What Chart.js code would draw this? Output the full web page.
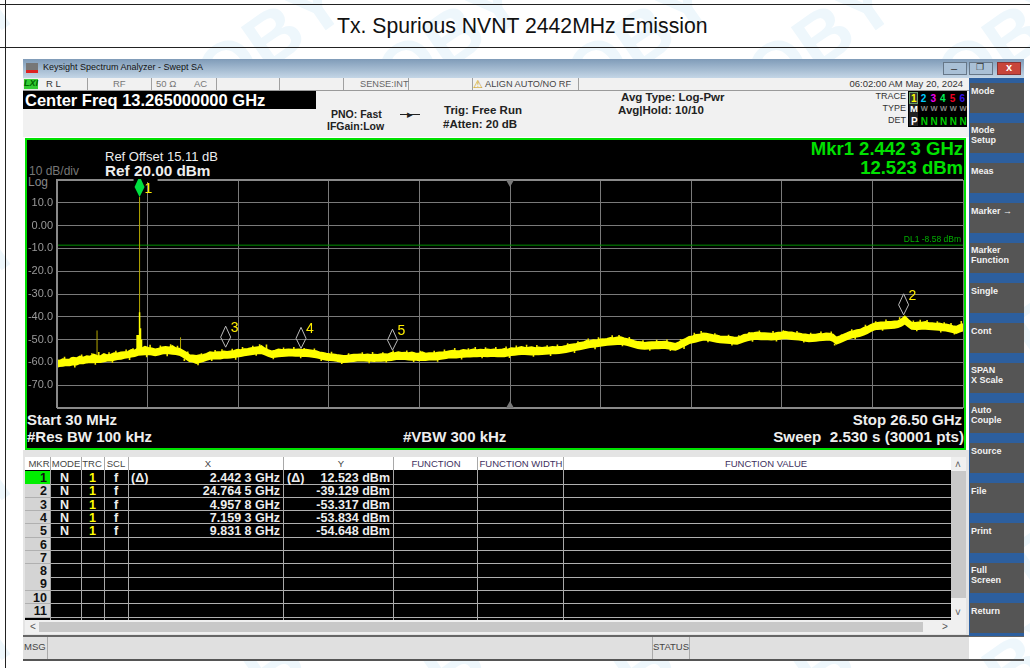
<!DOCTYPE html>
<html>
<head>
<meta charset="utf-8">
<title>Tx. Spurious NVNT 2442MHz Emission</title>
<script src="https://cdn.jsdelivr.net/npm/chart.js@4"></script>
<style>
    html, body { margin: 0; padding: 0; background: #fff; }
    body { width: 1030px; height: 668px; overflow: hidden; position: relative; font-family: "Liberation Sans", Arial, sans-serif; }
    #page div, #page span { position: absolute; white-space: pre; }
    #graph { position: absolute; left: 27px; top: 141px; width: 938px; height: 308px; }
</style>
</head>
<body>
<div id="page"></div>
<canvas id="graph" width="938" height="308"></canvas>
<script>
// Sweep frequencies in GHz
const traceGHz = [
    0.03,0.1,0.2,0.3,0.4,0.5,0.6,0.7,0.8,0.9,
    1.0,1.1,1.2,1.3,1.4,1.5,1.6,1.7,1.8,1.9,
    2.0,2.1,2.2,2.3,2.4,2.5,2.6,2.7,2.8,2.9,
    3.0,3.1,3.2,3.3,3.4,3.5,3.6,3.7,3.8,3.9,
    4.0,4.1,4.2,4.3,4.4,4.5,4.6,4.7,4.8,4.9,
    5.0,5.1,5.2,5.3,5.4,5.5,5.6,5.7,5.8,5.9,
    6.0,6.1,6.2,6.3,6.4,6.5,6.6,6.7,6.8,6.9,
    7.0,7.1,7.2,7.3,7.4,7.5,7.6,7.7,7.8,7.9,
    8.0,8.1,8.2,8.3,8.4,8.5,8.6,8.7,8.8,8.9,
    9.0,9.1,9.2,9.3,9.4,9.5,9.6,9.7,9.8,9.9,
    10.0,10.1,10.2,10.3,10.4,10.5,10.6,10.7,10.8,10.9,
    11.0,11.1,11.2,11.3,11.4,11.5,11.6,11.7,11.8,11.9,
    12.0,12.1,12.2,12.3,12.4,12.5,12.6,12.7,12.8,12.9,
    13.0,13.1,13.2,13.3,13.4,13.5,13.6,13.7,13.8,13.9,
    14.0,14.1,14.2,14.3,14.4,14.5,14.6,14.7,14.8,14.9,
    15.0,15.1,15.2,15.3,15.4,15.5,15.6,15.7,15.8,15.9,
    16.0,16.1,16.2,16.3,16.4,16.5,16.6,16.7,16.8,16.9,
    17.0,17.1,17.2,17.3,17.4,17.5,17.6,17.7,17.8,17.9,
    18.0,18.1,18.2,18.3,18.4,18.5,18.6,18.7,18.8,18.9,
    19.0,19.1,19.2,19.3,19.4,19.5,19.6,19.7,19.8,19.9,
    20.0,20.1,20.2,20.3,20.4,20.5,20.6,20.7,20.8,20.9,
    21.0,21.1,21.2,21.3,21.4,21.5,21.6,21.7,21.8,21.9,
    22.0,22.1,22.2,22.3,22.4,22.5,22.6,22.7,22.8,22.9,
    23.0,23.1,23.2,23.3,23.4,23.5,23.6,23.7,23.8,23.9,
    24.0,24.1,24.2,24.3,24.4,24.5,24.6,24.7,24.8,24.9,
    25.0,25.1,25.2,25.3,25.4,25.5,25.6,25.7,25.8,25.9,
    26.0,26.1,26.2,26.3,26.4,26.5
];

// Upper edge of the noise band in dBm
const traceTop = [
    -59.2,-59.3,-58.6,-58.8,-58.7,-58.0,-58.2,-57.4,-57.9,-57.3,
    -57.5,-56.6,-57.2,-57.3,-56.4,-56.9,-56.6,-56.0,-56.1,-55.7,
    -55.5,-55.4,-54.6,-54.8,-53.9,-54.0,-53.2,-53.7,-53.9,-54.3,
    -54.0,-53.4,-53.2,-53.5,-52.9,-53.8,-54.0,-54.8,-55.7,-56.9,
    -57.0,-57.2,-56.9,-56.7,-56.3,-55.6,-55.8,-55.5,-55.6,-55.2,
    -55.4,-55.2,-55.0,-54.5,-54.7,-54.2,-54.1,-53.8,-53.6,-53.4,
    -52.9,-53.9,-54.6,-55.2,-54.9,-54.4,-54.6,-54.5,-54.3,-54.4,
    -54.5,-54.3,-54.6,-54.5,-54.7,-54.9,-55.1,-55.6,-55.9,-56.2,
    -56.4,-56.5,-56.8,-57.0,-57.2,-57.1,-56.9,-56.6,-56.6,-56.5,
    -56.7,-56.5,-56.8,-56.6,-56.7,-56.4,-56.4,-56.5,-55.9,-56.0,
    -55.6,-55.9,-55.8,-56.0,-55.7,-56.1,-56.2,-55.6,-56.2,-56.0,
    -56.0,-55.9,-55.7,-55.7,-55.4,-55.1,-54.9,-55.1,-55.0,-54.6,
    -54.8,-54.7,-54.4,-54.7,-54.5,-54.6,-54.4,-54.6,-54.3,-54.6,
    -54.5,-54.1,-54.4,-53.8,-53.9,-53.7,-53.3,-53.7,-53.6,-53.4,
    -53.8,-53.5,-53.7,-53.5,-53.6,-53.3,-53.4,-53.2,-53.1,-52.8,
    -52.4,-52.1,-51.9,-51.5,-51.3,-50.6,-50.7,-50.3,-50.4,-50.0,
    -49.9,-49.7,-49.3,-49.4,-49.1,-49.0,-49.5,-49.8,-50.2,-50.7,
    -51.1,-51.2,-51.5,-51.3,-51.2,-51.2,-51.0,-51.1,-50.9,-51.3,
    -51.6,-51.9,-51.2,-50.4,-49.7,-48.8,-48.6,-48.0,-47.9,-47.3,
    -47.4,-47.7,-48.1,-48.2,-48.6,-48.7,-48.8,-48.9,-49.1,-49.2,
    -48.7,-48.0,-47.7,-47.2,-47.1,-46.9,-47.2,-47.2,-47.3,-47.4,
    -47.3,-47.0,-46.9,-46.6,-46.9,-46.9,-47.3,-47.3,-47.6,-47.8,
    -48.1,-47.9,-47.9,-47.5,-47.6,-47.3,-47.4,-47.8,-49.2,-48.6,
    -47.9,-47.3,-46.6,-46.3,-45.9,-45.7,-44.9,-44.5,-43.7,-43.0,
    -42.7,-42.5,-42.5,-42.3,-42.3,-42.1,-41.9,-41.2,-39.9,-41.4,
    -42.6,-42.7,-42.5,-42.6,-42.3,-42.8,-42.8,-43.0,-42.9,-43.3,
    -43.4,-43.7,-44.1,-44.4,-43.7,-43.2
];

// Lower edge of the noise band in dBm
const traceBottom = [
    -61.9,-61.6,-61.5,-61.2,-61.3,-60.8,-60.9,-60.3,-60.4,-60.0,
    -59.8,-59.9,-59.7,-59.8,-59.5,-59.2,-59.2,-58.8,-58.5,-58.4,
    -58.0,-57.8,-57.4,-57.2,-56.7,-56.5,-56.4,-56.3,-56.5,-56.9,
    -56.5,-56.1,-55.9,-56.0,-56.2,-56.3,-56.6,-57.4,-58.4,-59.4,
    -59.6,-60.2,-59.8,-59.4,-58.9,-58.4,-58.3,-58.2,-58.3,-58.0,
    -58.0,-57.8,-57.6,-57.4,-57.2,-56.9,-56.7,-56.4,-56.2,-56.0,
    -55.9,-56.5,-57.1,-57.6,-57.5,-57.3,-57.2,-57.1,-57.0,-57.0,
    -57.1,-57.0,-57.2,-57.2,-57.3,-57.5,-57.8,-58.1,-58.5,-58.8,
    -59.0,-59.1,-59.3,-59.6,-59.8,-59.7,-59.5,-59.4,-59.2,-59.1,
    -59.2,-59.3,-59.3,-59.4,-59.2,-59.3,-59.2,-59.1,-58.9,-58.6,
    -58.4,-58.5,-58.5,-58.7,-58.8,-58.7,-59.0,-58.8,-58.9,-58.7,
    -58.6,-58.7,-58.5,-58.3,-58.1,-57.8,-57.7,-57.8,-57.6,-57.5,
    -57.4,-57.4,-57.3,-57.3,-57.2,-57.2,-57.3,-57.2,-57.2,-57.3,
    -57.2,-57.3,-57.0,-56.8,-56.6,-56.4,-56.3,-56.3,-56.4,-56.5,
    -56.4,-56.4,-56.3,-56.2,-56.1,-56.0,-56.0,-55.9,-55.7,-55.4,
    -55.1,-54.8,-54.5,-54.2,-53.9,-53.6,-53.3,-53.1,-52.9,-52.7,
    -52.5,-52.3,-52.2,-52.0,-51.9,-51.8,-52.1,-52.4,-52.8,-53.3,
    -53.7,-53.9,-54.0,-53.9,-53.9,-53.8,-53.8,-53.7,-53.7,-53.9,
    -54.2,-54.4,-53.8,-53.1,-52.3,-51.5,-51.2,-50.8,-50.4,-50.1,
    -50.1,-50.3,-50.6,-50.9,-51.2,-51.3,-51.4,-51.5,-51.7,-51.8,
    -51.3,-50.8,-50.3,-50.0,-49.7,-49.7,-49.8,-49.9,-49.9,-50.0,
    -49.9,-49.7,-49.5,-49.3,-49.5,-49.7,-49.9,-50.0,-50.2,-50.5,
    -50.7,-50.6,-50.5,-50.3,-50.2,-50.1,-50.0,-50.5,-51.8,-51.2,
    -50.5,-49.9,-49.3,-48.9,-48.6,-48.3,-47.8,-47.1,-46.3,-45.6,
    -45.3,-45.2,-45.1,-45.0,-44.9,-44.8,-44.5,-43.9,-42.9,-44.1,
    -45.2,-45.3,-45.3,-45.2,-45.2,-45.4,-45.5,-45.6,-45.7,-45.9,
    -46.0,-46.3,-46.7,-47.1,-46.5,-46.0
];

// Short noise whiskers poking out of the band
const whiskerUpGHz = [
    0.25,0.45,0.75,1.05,1.25,1.55,1.75,2.05,2.25,2.75,3.05,3.35,3.55,3.85,4.25,4.65,4.85,5.15,5.45,5.75,
    5.95,6.15,6.65,6.95,7.25,7.55,8.05,8.55,8.95,9.25,9.55,9.85,10.25,10.65,11.05,11.35,11.65,12.05,12.25,12.55,
    12.85,13.15,13.45,13.75,14.05,14.35,14.65,14.95,15.25,15.55,15.85,16.25,16.45,16.75,17.15,17.55,17.85,18.25,18.65,18.85,
    19.25,19.65,19.95,20.25,20.55,20.95,21.25,21.65,22.05,22.35,22.65,22.95,23.25,23.65,23.95,24.25,24.65,25.05,25.25,25.45,
    25.75,25.95,26.15,26.45
];
const whiskerUpTip = [
    -57.5,-57.6,-56.5,-56.0,-55.4,-55.6,-54.9,-54.3,-53.8,-52.3,-52.6,-52.0,-52.7,-55.2,-56.0,-54.6,-54.2,-54.0,-53.2,-52.7,
    -52.0,-52.2,-53.5,-53.2,-53.7,-53.9,-55.3,-56.0,-55.5,-55.4,-55.5,-54.8,-54.8,-54.9,-54.9,-54.3,-53.7,-53.8,-53.2,-53.4,
    -53.2,-53.0,-52.6,-52.3,-52.4,-52.5,-52.2,-51.6,-50.7,-49.5,-49.0,-48.1,-48.0,-48.9,-50.3,-50.1,-50.0,-49.7,-47.0,-46.2,
    -47.2,-47.9,-48.1,-46.7,-46.0,-46.2,-45.9,-46.2,-47.0,-46.5,-46.4,-47.6,-45.5,-43.5,-41.9,-41.2,-40.2,-41.6,-41.3,-41.4,
    -42.0,-42.4,-42.7,-41.8
];
const whiskerDownGHz = [
    0.55,1.15,1.65,2.15,2.65,3.25,3.75,4.15,4.55,5.25,5.85,6.35,7.15,7.75,8.35,9.15,9.65,10.45,11.15,11.85,
    12.45,13.25,13.95,14.45,15.15,15.75,16.55,17.35,17.95,18.35,19.05,19.75,20.35,21.05,21.85,22.75,23.35,24.15,25.15,25.85,
    26.25
];
const whiskerDownTip = [
    -62.2,-61.0,-60.2,-59.0,-57.7,-57.3,-59.4,-61.3,-59.4,-58.8,-57.1,-58.6,-58.2,-59.4,-60.7,-60.4,-60.0,-59.8,-59.7,-58.7,
    -58.2,-58.1,-57.5,-57.2,-55.9,-54.2,-52.9,-54.9,-55.0,-54.1,-51.2,-52.6,-50.9,-50.8,-51.3,-52.6,-49.9,-46.1,-46.3,-46.9,
    -47.8
];

// Narrow spikes that stand out of the noise, the carrier among them
const spikeGHz = [1.2, 3.64, 2.4423];
const spikeTop = [-46, -49, 12.523];
const spikeBase = [-58, -56, -55];
const skirtGHz = [2.37, 2.40, 2.4423, 2.47, 2.50];
const skirtTop = [-48, -48, -38, -45, -50];
const skirtBase = [-56, -56, -56, -56, -56];

// Markers in the table and on the trace
const markerGHz = [2.4423, 24.7645, 4.9578, 7.1593, 9.8318];
const markerDbm = [12.523, -39.129, -53.317, -53.834, -54.648];
const markerXText = ['2.442 3 GHz', '24.764 5 GHz', '4.957 8 GHz', '7.159 3 GHz', '9.831 8 GHz'];
const markerYText = ['12.523 dBm', '-39.129 dBm', '-53.317 dBm', '-53.834 dBm', '-54.648 dBm'];
const displayLineDbm = -8.58;

// Axis divisions
const xDivisionsGHz = [0.03, 2.677, 5.324, 7.971, 10.618, 13.265, 15.912, 18.559, 21.206, 23.853, 26.5];
const softKeys = ['Mode', 'Mode\nSetup', 'Meas', 'Marker \u2192', 'Marker\nFunction', 'Single', 'Cont', 'SPAN\nX Scale', 'Auto\nCouple', 'Source', 'File', 'Print', 'Full\nScreen', 'Return'];
const watermarkX = [-30, 150, 330, 520, 700, 890, -30, 990, -30, 990, -30, 150, 330, 520, 700, 890];
const watermarkY = [10, 10, 10, 10, 10, 10, 250, 250, 480, 480, 640, 640, 640, 640, 640, 640];

let page = document.getElementById('page');

// A filled rectangle of the analyzer window
function box(x, y, w, h, background, css) {
    let el = document.createElement('div');
    el.style.cssText = 'left:' + x + 'px;top:' + y + 'px;width:' + w + 'px;height:' + h + 'px;background:' + background + ';' + (css || '');
    page.appendChild(el);
    return el;
}

// A piece of text, vertically centered on y. Negative x means right aligned to -x
function label(text, x, y, size, color, css) {
    let el = document.createElement('span');
    let side = x < 0 ? 'right:' + (1030 + x) + 'px;' : 'left:' + x + 'px;';
    el.style.cssText = side + 'top:' + y + 'px;transform:translateY(-50%);font-size:' + size + 'px;line-height:1.1;color:' + color + ';' + (css || '');
    el.textContent = text;
    page.appendChild(el);
    return el;
}

// Faint watermark behind the document
watermarkX.forEach((x, i) => {
    label('TOBY', x, watermarkY[i], 74, '#eef7fc', 'font-weight:bold;transform:rotate(-35deg);');
});

// Document frame and title
box(0, 4, 1030, 1, '#222');
box(0, 47, 1030, 1, '#222');
box(5, 0, 1, 668, '#222');
label('Tx. Spurious NVNT 2442MHz Emission', 337, 26, 21.2, '#111');

// Window title bar
box(23, 59, 1001, 19, 'linear-gradient(#7f9bb8,#c4d6e6)');
box(26, 63, 12, 10, '#777', 'border-bottom:3px solid #d22;height:7px;');
label('Keysight Spectrum Analyzer - Swept SA', 43, 68, 9, '#111');
box(943, 62, 24, 13, '#a9c0d6', 'border:1px solid #678;box-sizing:border-box;');
box(969, 62, 24, 13, '#a9c0d6', 'border:1px solid #678;box-sizing:border-box;');
box(997, 62, 24, 13, '#c8453a', 'border:1px solid #833;box-sizing:border-box;');
label('\u2013', 951, 68, 11, '#333');
label('\u2750', 976, 68, 9, '#333');
label('x', 1006, 67, 11, '#fff', 'font-weight:bold;');

// Status row
box(23, 78, 946, 59, '#f1f1f1');
box(23, 90, 946, 1, '#9a9a9a');
[87, 151, 216, 279, 343, 408, 472, 578].forEach(x => box(x, 78, 1, 12, '#a0a0a0'));
label('LXI', 24, 84, 9, '#060', 'font-weight:bold;font-style:italic;background:#3c3;');
label('R L', 46, 84, 9.5, '#333');
label('RF', 113, 84, 9.5, '#777');
label('50 \u03a9', 156, 84, 9.5, '#777');
label('AC', 194, 84, 9.5, '#777');
label('SENSE:INT', 360, 84, 9.2, '#666');
label('\u26a0', 473, 84, 11, '#c90');
label('ALIGN AUTO/NO RF', 485, 84, 9.2, '#444');
label('06:02:00 AM May 20, 2024', -963, 84, 9.5, '#333');

// Center frequency and acquisition settings
box(23, 91, 293, 18, '#000');
label('Center Freq 13.265000000 GHz', 25, 100, 16.5, '#fff', 'font-weight:bold;');
label('PNO: Fast', 331, 115, 10.5, '#222', 'font-weight:bold;');
label('IFGain:Low', 327, 127, 10.5, '#222', 'font-weight:bold;');
box(400, 114, 20, 1, '#222');
label('\u25b8', 407, 114, 11, '#222');
label('Trig: Free Run', 444, 110, 11.5, '#222', 'font-weight:bold;');
label('#Atten: 20 dB', 443, 124, 11.5, '#222', 'font-weight:bold;');
label('Avg Type: Log-Pwr', 621, 97, 11.5, '#222', 'font-weight:bold;');
label('Avg|Hold: 10/10', 618, 110, 11.5, '#222', 'font-weight:bold;');

// Trace status block
label('TRACE', -906, 97, 9, '#333');
label('TYPE', -906, 109, 9, '#333');
label('DET', -906, 121, 9, '#333');
box(908, 91, 59, 36, '#000');
box(909, 92, 9, 12, '#333', 'border:1px solid #696;box-sizing:border-box;');
box(909, 104, 9, 22, '#222');
['1', '2', '3', '4', '5', '6'].forEach((t, i) => {
    label(t, 911 + i * 9.7, 98, 10, ['#ff0', '#0cf', '#e0e', '#0e5', '#e02', '#31e'][i], 'font-weight:bold;');
    label(i ? 'W' : 'M', 911 + i * 9.7 - (i ? 0 : 1), 109, i ? 7.5 : 9.5, i ? '#888' : '#fff', 'font-weight:bold;');
    label(i ? 'N' : 'P', 911 + i * 9.7, 121, 10, i ? '#0c0' : '#fff', 'font-weight:bold;');
});

// Graph panel with its green frame
box(25, 138, 941, 312, '#000', 'border:2px solid #00e000;box-sizing:border-box;');
label('Ref Offset 15.11 dB', 105, 157, 13, '#eee');
label('Ref 20.00 dBm', 105, 171, 15.3, '#eee', 'font-weight:bold;');
label('10 dB/div', 29, 172, 12, '#777');
label('Log', 28, 183, 12, '#888');
label('Mkr1 2.442 3 GHz', -963, 149, 18.5, '#00e000', 'font-weight:bold;');
label('12.523 dBm', -963, 168, 18.5, '#00e000', 'font-weight:bold;');
label('Start 30 MHz', 27, 420, 15, '#eee', 'font-weight:bold;');
label('#Res BW 100 kHz', 27, 437, 15, '#eee', 'font-weight:bold;');
label('#VBW 300 kHz', 403, 437, 15, '#eee', 'font-weight:bold;');
label('Stop 26.50 GHz', -962, 420, 15, '#eee', 'font-weight:bold;');
label('Sweep  2.530 s (30001 pts)', -964, 437, 15.2, '#eee', 'font-weight:bold;');

// Marker table
box(23, 450, 946, 186, '#e4e4e4');
box(25, 457, 926, 163, '#000');
box(25, 457, 926, 13, '#fff');
const columnEdges = [50, 81, 104, 128, 283, 393, 477, 563];
const columnNames = ['MKR', 'MODE', 'TRC', 'SCL', 'X', 'Y', 'FUNCTION', 'FUNCTION WIDTH', 'FUNCTION VALUE'];
const columnMiddles = [39, 66, 92, 116, 208, 341, 436, 521, 766];
columnNames.forEach((name, i) => {
    let el = label(name, columnMiddles[i], 463.5, 9.5, i > 5 ? '#403060' : '#444');
    el.style.transform = 'translate(-50%,-50%)';
});
for (let row = 0; row < 11; row++) {
    let y = 471 + row * 13.3;
    box(25, y, 25, 13, row ? '#d4d4d4' : '#00ee00');
    box(25, y + 12.5, 926, 1, '#b0b0b0');
    label(String(row + 1), -47, y + 8, 12.5, '#111', 'font-weight:bold;');
    if (row < markerGHz.length) {
        label('N', 60, y + 8, 12.5, '#eee', 'font-weight:bold;');
        label('1', 89, y + 8, 12.5, '#ff0', 'font-weight:bold;');
        label('f', 114, y + 8, 12.5, '#eee', 'font-weight:bold;');
        label(markerXText[row], -280, y + 8, 12.5, '#eee', 'font-weight:bold;');
        label(markerYText[row], -390, y + 8, 12.5, '#eee', 'font-weight:bold;');
    }
}
label('(\u0394)', 131, 479, 12.5, '#eee', 'font-weight:bold;');
label('(\u0394)', 287, 479, 12.5, '#eee', 'font-weight:bold;');
columnEdges.forEach(x => box(x, 457, 1, 163, '#a8a8a8'));

// Scroll bars
box(951, 457, 15, 163, '#f0f0f0');
box(951, 471, 15, 127, '#c8c8c8');
label('\u02c4', 955, 464, 10, '#555');
label('\u02c5', 955, 612, 10, '#555');
box(25, 620, 941, 14, '#f0f0f0');
box(39, 622, 884, 10, '#c8c8c8');
label('<', 30, 626, 10, '#555');
label('>', 942, 626, 10, '#555');

// Message bar
box(23, 635, 946, 25, '#e0e0e0');
box(23, 635, 1001, 2, '#666');
box(23, 659, 1001, 2, '#555');
[47, 652, 689].forEach(x => box(x, 637, 1, 22, '#aaa'));
label('MSG', 24, 647, 9.5, '#444');
label('STATUS', 653, 647, 9.5, '#444');

// Soft keys on the right
box(969, 78, 55, 558, '#2d5f9e');
softKeys.forEach((name, i) => {
    box(970, 83 + i * 40, 54, 30, '#555');
    label(name, 971, 96 + i * 40 - (name.indexOf('\n') < 0 ? 4 : 0), 9, '#f2f2f2', 'font-weight:bold;');
});

// Frame, centre carets, display line text and marker diamonds on top of the scales
const analyzerOverlay = {
    id: 'analyzerOverlay',
    afterDatasetsDraw(chart) {
        let ctx = chart.ctx;
        let area = chart.chartArea;
        let xScale = chart.scales.x;
        let yScale = chart.scales.y;
        ctx.save();

        // Heavier left, top and bottom edges of the graticule
        ctx.strokeStyle = '#8a8a8a';
        ctx.lineWidth = 2;
        ctx.beginPath();
        ctx.moveTo(area.left, area.bottom);
        ctx.lineTo(area.left, area.top);
        ctx.lineTo(area.right, area.top);
        ctx.moveTo(area.left, area.bottom);
        ctx.lineTo(area.right, area.bottom);
        ctx.stroke();

        // Triangles at the centre frequency
        let mid = xScale.getPixelForValue(xDivisionsGHz[5]);
        ctx.fillStyle = '#777';
        ctx.beginPath();
        ctx.moveTo(mid - 4, area.top);
        ctx.lineTo(mid + 4, area.top);
        ctx.lineTo(mid, area.top + 7);
        ctx.moveTo(mid - 4, area.bottom);
        ctx.lineTo(mid + 4, area.bottom);
        ctx.lineTo(mid, area.bottom - 7);
        ctx.fill();

        // Display line caption
        ctx.font = '8.5px "Liberation Sans", Arial, sans-serif';
        ctx.fillStyle = '#00b000';
        ctx.textAlign = 'right';
        ctx.textBaseline = 'bottom';
        ctx.fillText('DL1 -8.58 dBm', area.right - 2, yScale.getPixelForValue(displayLineDbm) - 1);

        // Gap in the top edge around the active marker
        let first = xScale.getPixelForValue(markerGHz[0]);
        ctx.fillStyle = '#000';
        ctx.fillRect(first - 6, area.top - 2, 24, 4);

        // Diamonds stand on the marked point
        markerGHz.forEach((ghz, i) => {
            let x = xScale.getPixelForValue(ghz);
            let y = yScale.getPixelForValue(markerDbm[i]);
            ctx.save();
            ctx.beginPath();
            ctx.rect(area.left, area.top - 1, area.right - area.left, area.bottom - area.top);
            ctx.clip();
            ctx.beginPath();
            ctx.moveTo(x, y);
            ctx.lineTo(x - 5, y - 10);
            ctx.lineTo(x, y - 21);
            ctx.lineTo(x + 5, y - 10);
            ctx.closePath();
            if (i === 0) {
                ctx.fillStyle = '#00e040';
                ctx.fill();
            } else {
                ctx.strokeStyle = '#bbb';
                ctx.lineWidth = 1;
                ctx.stroke();
            }
            ctx.restore();
            ctx.font = '14px "Liberation Sans", Arial, sans-serif';
            ctx.fillStyle = '#ffee00';
            ctx.textAlign = 'left';
            ctx.textBaseline = 'middle';
            ctx.fillText(String(i + 1), x + 5, Math.max(area.top + 9, y - 19));
        });
        ctx.restore();
    }
};

// Pairs up the spikes, with a null between them so they stay separate lines
function spikePoints(ghz, top, base) {
    let points = [];
    ghz.forEach((x, i) => {
        points.push({x: x, y: base[i]}, {x: x, y: top[i]}, {x: x, y: null});
    });
    return points;
}

new Chart(document.getElementById('graph'), {
    type: 'line',
    data: {
        datasets: [
            {
                label: 'Trace top',
                data: traceGHz.map((x, i) => ({x: x, y: traceTop[i]})),
                borderColor: '#ffff00',
                backgroundColor: '#ffff00',
                borderWidth: 2,
                pointRadius: 0,
                fill: '+1'
            },
            {
                label: 'Trace bottom',
                data: traceGHz.map((x, i) => ({x: x, y: traceBottom[i]})),
                borderColor: '#ffff00',
                borderWidth: 2,
                pointRadius: 0,
                fill: false
            },
            {
                label: 'Skirt',
                data: spikePoints(skirtGHz, skirtTop, skirtBase),
                borderColor: '#ffff00',
                borderWidth: 1.5,
                pointRadius: 0,
                spanGaps: false
            },
            {
                label: 'Whiskers up',
                data: spikePoints(whiskerUpGHz, whiskerUpTip, whiskerUpGHz.map(g => traceTop[Math.round(g * 10)])),
                borderColor: '#f0e400',
                borderWidth: 1.6,
                pointRadius: 0,
                spanGaps: false
            },
            {
                label: 'Whiskers down',
                data: spikePoints(whiskerDownGHz, whiskerDownTip, whiskerDownGHz.map(g => traceBottom[Math.round(g * 10)])),
                borderColor: '#f0e400',
                borderWidth: 1.6,
                pointRadius: 0,
                spanGaps: false
            },
            {
                label: 'Spikes',
                data: spikePoints(spikeGHz, spikeTop, spikeBase),
                borderColor: '#b5a800',
                borderWidth: 1,
                pointRadius: 0,
                spanGaps: false
            },
            {
                label: 'DL1',
                data: [{x: xDivisionsGHz[0], y: displayLineDbm}, {x: xDivisionsGHz[10], y: displayLineDbm}],
                borderColor: '#008f00',
                borderWidth: 1,
                pointRadius: 0
            }
        ]
    },
    options: {
        responsive: false,
        animation: false,
        layout: {padding: {top: 39, bottom: 41, right: 2, left: 0}},
        plugins: {legend: {display: false}, tooltip: {enabled: false}},
        scales: {
            x: {
                type: 'linear',
                min: 0.03,
                max: 26.5,
                afterBuildTicks: axis => { axis.ticks = xDivisionsGHz.map(v => ({value: v})); },
                ticks: {display: false},
                grid: {color: '#7a7a7a', lineWidth: 1, tickLength: 0},
                border: {display: false}
            },
            y: {
                min: -80,
                max: 20,
                afterFit: axis => { axis.width = 30; },
                ticks: {
                    stepSize: 10,
                    color: '#9a9a9a',
                    padding: 4,
                    font: {size: 11, family: '"Liberation Sans", Arial, sans-serif'},
                    callback: v => (v === 20 || v === -80) ? '' : (v === 0 ? '0.00' : v.toFixed(1))
                },
                grid: {color: '#7a7a7a', lineWidth: 1, tickLength: 0},
                border: {display: false}
            }
        }
    },
    plugins: [analyzerOverlay]
});
</script>
</body>
</html>
